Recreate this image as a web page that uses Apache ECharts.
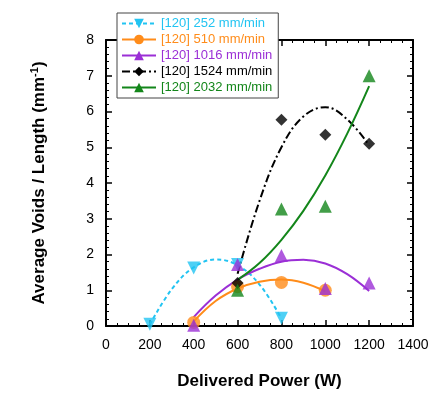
<!DOCTYPE html>
<html><head><meta charset="utf-8">
<script src="https://cdn.jsdelivr.net/npm/echarts@6/dist/echarts.min.js"></script>
<style>html,body{margin:0;padding:0;background:#fff}#c{width:438px;height:395px}</style>
</head><body><div id="c"></div>
<script>
// Series names
const names = ['[120] 252 mm/min','[120] 510 mm/min','[120] 1016 mm/min','[120] 1524 mm/min','[120] 2032 mm/min'];
const colors = ['#22c4f2','#ff8c1a','#9b2fd6','#000000','#13861a'];
// Measured points [power W, voids/mm]
const pts252  = [[200,0.05],[400,1.62],[600,1.72],[800,0.22]];
const pts510  = [[400,0.10],[600,1.10],[800,1.22],[1000,1.00]];
const pts1016 = [[400,0.02],[600,1.72],[800,1.97],[1000,1.05],[1200,1.20]];
const pts1524 = [[600,1.20],[800,5.77],[1000,5.35],[1200,5.10]];
const pts2032 = [[600,1.00],[800,3.27],[1000,3.35],[1200,7.00]];
// Fit curves
const fit252  = [[200,0.04],[300,1.03],[400,1.64],[500,1.86],[600,1.70],[700,1.16],[800,0.21]];
const fit510  = [[400,0.13],[500,0.70],[600,1.05],[700,1.24],[800,1.30],[900,1.21],[1000,0.97]];
const fit1016 = [[400,0.25],[500,0.85],[600,1.30],[700,1.60],[800,1.80],[900,1.85],[1000,1.75],[1100,1.45],[1200,0.98]];
const fit1524 = [[600,1.46],[700,3.50],[800,5.00],[900,5.86],[1000,6.12],[1100,5.78],[1200,5.05]];
const fit2032 = [[600,1.29],[700,1.76],[800,2.41],[900,3.22],[1000,4.21],[1100,5.38],[1200,6.71]];
// Tick labels
const xTicks = [0,200,400,600,800,1000,1200,1400];
const yTicks = [0,1,2,3,4,5,6,7,8];

const pts = [pts252,pts510,pts1016,pts1524,pts2032];
const fits = [fit252,fit510,fit1016,fit1524,fit2032];
const symbols = ['triangle','circle','triangle','diamond','triangle'];
const rotates = [180,0,0,0,0];
const sizes = [13,13,13,12,13];
const lineTypes = [[4,3],'solid','solid',[8,3,2,3],'solid'];

const series = [];
for (let i=0;i<5;i++){
  series.push({
    name:names[i], type:'line', data:fits[i], smooth:0.4,
    symbol:symbols[i], symbolRotate:rotates[i], symbolSize:sizes[i]-1, showSymbol:false,
    lineStyle:{color:colors[i], width:2, type:lineTypes[i]},
    itemStyle:{color:colors[i]}, z:2, silent:true
  });
}
for (let i=0;i<5;i++){
  series.push({
    name:names[i], type:'scatter', data:pts[i],
    symbol:symbols[i], symbolRotate:rotates[i], symbolSize:sizes[i],
    itemStyle:{color:colors[i]}, z:3
  });
}

const font = 'Liberation Sans, Arial';
const aLine = {show:true, onZero:false, lineStyle:{color:'#000', width:2}};
const aTick = {show:true, inside:true, length:6, lineStyle:{color:'#000', width:1.5}};
function minor(n){ return {show:true, splitNumber:n, length:3, lineStyle:{color:'#000', width:1}}; }

const chart = echarts.init(document.getElementById('c'));
chart.setOption({
  animation:false,
  backgroundColor:'#fff',
  grid:{left:106, right:25, top:40, bottom:67},
  legend:{
    orient:'vertical', left:117, top:13, itemGap:3, itemWidth:34, itemHeight:12,
    backgroundColor:'#fff', borderColor:'#444', borderWidth:1, padding:[4,6,4,4],
    textStyle:{fontFamily:font, fontSize:13},
    data:names.map((n,i)=>({name:n, textStyle:{color:colors[i]}})),
    selectedMode:false, z:10
  },
  xAxis:[
    {type:'value', min:xTicks[0], max:xTicks[xTicks.length-1], interval:xTicks[1]-xTicks[0], position:'bottom',
      axisLine:aLine, axisTick:aTick, minorTick:minor(4), splitLine:{show:false},
      axisLabel:{color:'#000', fontFamily:font, fontSize:14, margin:12, formatter:v=>String(v)},
      name:'Delivered Power (W)', nameLocation:'middle', nameGap:47,
      nameTextStyle:{color:'#000', fontFamily:font, fontSize:17, fontWeight:'bold'}
    },
    {type:'value', min:xTicks[0], max:xTicks[xTicks.length-1], interval:xTicks[1]-xTicks[0], position:'top',
      axisLine:aLine, axisTick:aTick, minorTick:minor(4),
      axisLabel:{show:false}, splitLine:{show:false}}
  ],
  yAxis:[
    {type:'value', min:yTicks[0], max:yTicks[yTicks.length-1], interval:1, position:'left',
      axisLine:aLine, axisTick:aTick, minorTick:minor(5), splitLine:{show:false},
      axisLabel:{color:'#000', fontFamily:font, fontSize:14, margin:12},
      name:'{a|Average Voids / Length (mm}{s|-1}{a|)}', nameLocation:'middle', nameGap:58,
      nameTextStyle:{rich:{
        a:{color:'#000', fontFamily:font, fontSize:17, fontWeight:'bold', verticalAlign:'bottom'},
        s:{color:'#000', fontFamily:font, fontSize:11, fontWeight:'bold', verticalAlign:'top', padding:[0,0,8,0]}
      }}
    },
    {type:'value', min:yTicks[0], max:yTicks[yTicks.length-1], interval:1, position:'right',
      axisLine:aLine, axisTick:aTick, minorTick:minor(5),
      axisLabel:{show:false}, splitLine:{show:false}}
  ],
  series:series
});
</script></body></html>
